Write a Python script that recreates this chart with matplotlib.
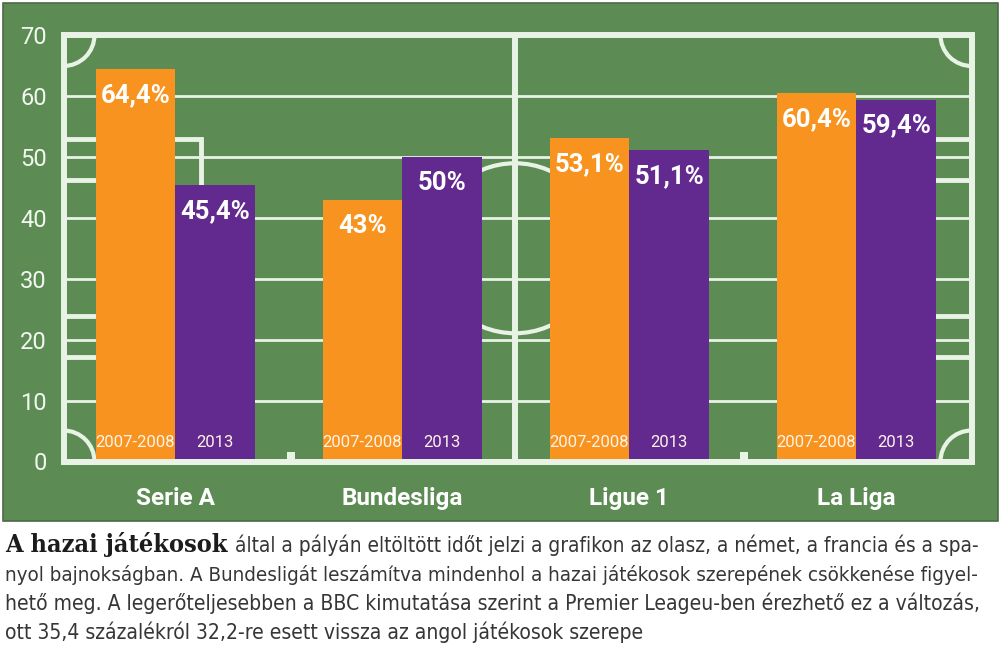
import matplotlib
matplotlib.use('Agg')
import matplotlib.pyplot as plt
from matplotlib.patches import Rectangle, Arc, Circle

# data
leagues = ['Serie A', 'Bundesliga', 'Ligue 1', 'La Liga']
share_2008 = [64.4, 43, 53.1, 60.4]
share_2013 = [45.4, 50, 51.1, 59.4]
seasons = ['2007-2008', '2013']
y_ticks = [0, 10, 20, 30, 40, 50, 60, 70]

caption_bold = 'A hazai játékosok'
caption_lines = [
    'által a pályán eltöltött időt jelzi a grafikon az olasz, a német, a francia és a spa-',
    'nyol bajnokságban. A Bundesligát leszámítva mindenhol a hazai játékosok szerepének csökkenése figyel-',
    'hető meg. A legerőteljesebben a BBC kimutatása szerint a Premier Leageu-ben érezhető ez a változás,',
    'ott 35,4 százalékról 32,2-re esett vissza az angol játékosok szerepe',
]

# colours
GREEN = '#5c8c54'
LINE = '#e8f3e5'
ORANGE = '#f7931e'
PURPLE = '#62298f'

LABEL_FONT = ['Roboto', 'DejaVu Sans']
CAPTION_FONT = dict(family='DejaVu Sans', stretch='condensed')

fig = plt.figure(figsize=(10, 6.58), dpi=100)
fig.patch.set_facecolor('white')

# background axes in pixel units (y down) for the pitch drawing
bg = fig.add_axes([0, 0, 1, 1])
bg.set_xlim(0, 1000)
bg.set_ylim(658, 0)
bg.axis('off')

bg.add_patch(Rectangle((2.5, 3), 995, 518, facecolor=GREEN, edgecolor='#4b6a46', lw=1.2))

L, R, T, B = 63.5, 971.5, 35, 461.5
cy = (T + B) / 2
bg.add_patch(Rectangle((L, T), R - L, B - T, fill=False, edgecolor=LINE, lw=4.3))
bg.plot([515, 515], [T, B], color=LINE, lw=4.3)
bg.add_patch(Circle((515, cy), 85, fill=False, edgecolor=LINE, lw=3))
# corners
r = 31
bg.add_patch(Arc((L, T), 2 * r, 2 * r, theta1=0, theta2=90, color=LINE, lw=3))
bg.add_patch(Arc((L, B), 2 * r, 2 * r, theta1=270, theta2=360, color=LINE, lw=3))
bg.add_patch(Arc((R, T), 2 * r, 2 * r, theta1=90, theta2=180, color=LINE, lw=3))
bg.add_patch(Arc((R, B), 2 * r, 2 * r, theta1=180, theta2=270, color=LINE, lw=3))
# penalty and goal boxes
bg.add_patch(Rectangle((L, 139), 137.5, 217.5, fill=False, edgecolor=LINE, lw=3.5))
bg.add_patch(Rectangle((L, 180), 46, 136, fill=False, edgecolor=LINE, lw=3.5))
bg.add_patch(Rectangle((R - 137.5, 139), 137.5, 217.5, fill=False, edgecolor=LINE, lw=3.5))
bg.add_patch(Rectangle((R - 46, 180), 46, 136, fill=False, edgecolor=LINE, lw=3.5))
# little marks on the bottom line
for mx in (287, 740):
    bg.add_patch(Rectangle((mx, 452), 8, 9, facecolor=LINE, edgecolor='none'))

# bar axes
ax = fig.add_axes([L / 1000, (658 - B) / 658, (R - L) / 1000, (B - T) / 658])
ax.patch.set_alpha(0)
for s in ax.spines.values():
    s.set_visible(False)
ax.set_xlim(-0.493, 3.507)
ax.set_ylim(0, 70)

for yv in y_ticks[1:-1]:
    ax.axhline(yv, color=LINE, lw=2, zorder=1)

w = 0.352
xs = list(range(len(leagues)))
x_old = [x - w / 2 for x in xs]
x_new = [x + w / 2 for x in xs]
ax.bar(x_old, share_2008, width=w, color=ORANGE, zorder=2)
ax.bar(x_new, share_2013, width=w, color=PURPLE, zorder=2)
ax.axhline(0, color=LINE, lw=4.3, zorder=5, clip_on=False)


def pct(v):
    return ('%g' % v).replace('.', ',') + '%'


for xo, xn, a, b in zip(x_old, x_new, share_2008, share_2013):
    for xv, v, lab in ((xo, a, seasons[0]), (xn, b, seasons[1])):
        ax.annotate(pct(v), (xv, v), xytext=(0, -23.8), textcoords='offset points',
                    ha='center', va='baseline', color='white', fontsize=18.5,
                    fontweight='bold', zorder=6, family=LABEL_FONT)
        ax.annotate(lab, (xv, 0), xytext=(0, 10.5), textcoords='offset points',
                    ha='center', va='baseline', color='#fff4e8', fontsize=12,
                    zorder=6, family=LABEL_FONT)

for x, name in zip(xs, leagues):
    ax.annotate(name, (x, 0), xytext=(0, -31.3), textcoords='offset points',
                ha='center', va='baseline', color='white', fontsize=17.5,
                fontweight='bold', annotation_clip=False, family=LABEL_FONT)

ax.set_xticks([])
ax.set_yticks(y_ticks)
ax.set_yticklabels([str(t) for t in y_ticks])
ax.tick_params(axis='y', length=0, pad=12, labelcolor='#f2f7f0', labelsize=17)
for t in ax.get_yticklabels():
    t.set_fontfamily(LABEL_FONT)

# caption, justified by fitting each line to its width
renderer = fig.canvas.get_renderer()


def fit(txt, width):
    size = txt.get_fontsize()
    cur = txt.get_window_extent(renderer).width
    txt.set_fontsize(size * width / cur)
    return txt.get_fontsize()


bold = bg.text(5, 552, caption_bold, fontsize=17, fontweight='bold',
               family='DejaVu Serif', stretch='condensed', color='#1c1c1c', va='baseline')
fit(bold, 224)

baselines = [552, 581, 610, 639]
starts = [235, 5, 5, 5]
ends = [985, 985, 985, None]
size_ref = None
for line, yb, x0, x1 in zip(caption_lines, baselines, starts, ends):
    t = bg.text(x0, yb, line, fontsize=16, color='#363636', va='baseline', **CAPTION_FONT)
    if x1 is not None:
        s = fit(t, x1 - x0)
        if x0 == 5:
            size_ref = s
    else:
        t.set_fontsize(size_ref)

fig.savefig('out.png', dpi=100, facecolor='white')
